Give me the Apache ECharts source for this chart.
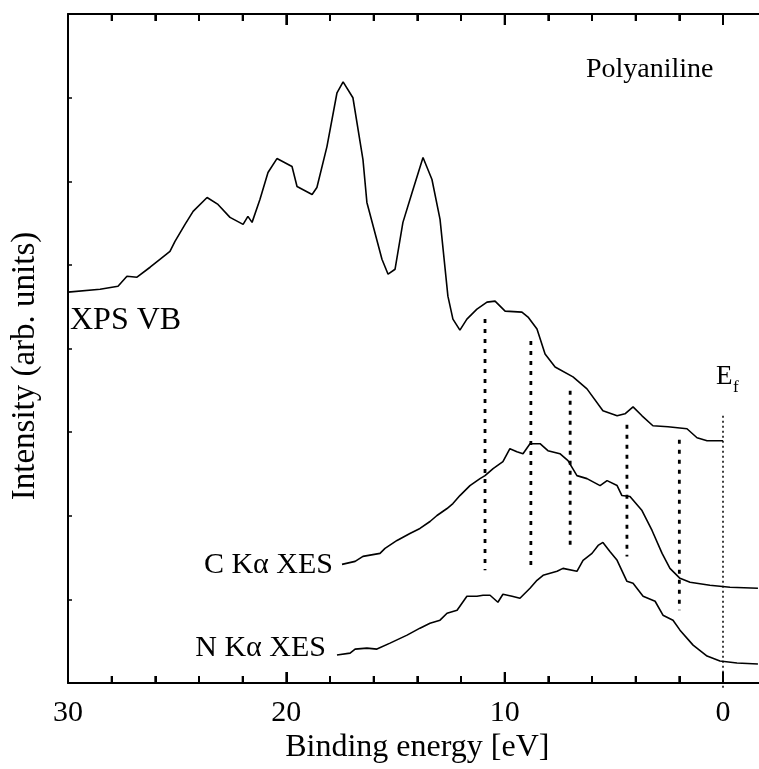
<!DOCTYPE html>
<html>
<head>
<meta charset="utf-8">
<script src="https://cdn.jsdelivr.net/npm/echarts@6/dist/echarts.min.js"></script>
<style>
html,body{margin:0;padding:0;background:#fff;overflow:hidden;}
#c{width:767px;height:769px;}
</style>
</head>
<body>
<div id="c"></div>
<script>
// Binding energy (eV) and intensity (arb. units)
const xpsE = [30.00,28.53,27.71,27.30,26.84,26.24,25.79,25.33,25.10,24.64,24.27,23.63,23.13,22.58,21.98,21.76,21.57,21.21,20.84,20.43,19.74,19.51,18.82,18.60,18.14,17.68,17.40,16.95,16.49,16.31,15.62,15.34,15.02,14.66,14.24,13.74,13.33,12.96,12.60,12.37,12.05,11.73,11.50,11.27,10.81,10.44,9.98,9.21,8.93,8.52,8.15,7.69,6.87,6.23,5.50,4.85,4.49,4.12,3.71,3.21,2.52,1.65,1.19,0.73,0.00];
const xpsI = [392,395,398,408,407,417,425,433,443,460,473,487,480,467,460,468,462,485,512,526,518,498,490,497,538,592,603,587,525,482,425,410,415,462,492,527,505,465,388,365,354,365,370,375,382,383,373,372,367,355,330,317,307,295,273,268,270,277,268,258,257,255,246,243,243];

const cE = [17.45,16.85,16.49,15.71,15.48,14.93,14.34,13.88,13.42,13.10,12.64,12.37,12.05,11.59,11.13,10.90,10.53,10.08,9.76,9.44,9.16,8.84,8.38,8.02,7.47,7.10,6.69,6.23,5.63,5.31,4.85,4.63,4.26,3.71,3.25,2.79,2.43,1.97,1.51,0.60,-0.32,-1.60];
const cI = [119,122,127,130,135,143,150,155,162,168,175,180,188,198,205,208,215,222,235,232,230,240,240,233,230,223,208,205,198,203,198,188,187,173,153,130,115,105,101,98,96,95];

const nE = [17.68,17.08,16.85,16.31,15.85,15.25,14.47,13.88,13.42,12.96,12.64,12.18,11.73,11.27,10.99,10.67,10.31,10.08,9.66,9.30,8.84,8.52,8.24,7.60,7.33,6.69,6.41,6.00,5.72,5.50,5.18,4.85,4.40,4.12,3.66,3.11,2.75,2.29,1.97,1.37,0.73,0.14,-0.64,-1.60];
const nI = [28,30,34,35,34,40,48,55,60,63,70,73,87,87,88,88,81,89,87,85,95,103,108,112,115,112,123,130,138,141,132,123,102,100,87,82,68,63,53,38,27,22,20,19];

// dotted guide lines
const dropE = [10.9, 8.8, 7.0, 4.4, 2.0];
const dropTop = [365, 343, 293, 259, 244];
const dropBottom = [113, 118, 133, 127, 73];
const fermiE = 0;
const fermiTop = 268;
const fermiBottom = -7;

// axis ranges and ticks (eV / arb. units)
const xMin = -2, xMax = 30;
const yMin = 0, yMax = 671, yStep = 83.875;
const xMajorTicks = [0, 10, 20, 30];
const xMinorTicks = [2, 4, 6, 8, 12, 14, 16, 18, 22, 24, 26, 28];

const FONT = 'Liberation Serif';
const zip = (a, b) => a.map((v, i) => [v, b[i]]);

const chart = echarts.init(document.getElementById('c'), null, {renderer: 'canvas'});

// tick marks: [energy, length px]
const tickData = xMajorTicks.map(v => [v, 11]).concat(xMinorTicks.map(v => [v, 7]));

const markTicks = [];
tickData.forEach(t => {
  markTicks.push([{coord: [t[0], yMin]}, {coord: [t[0], yMin + t[1]]}]);
  markTicks.push([{coord: [t[0], yMax]}, {coord: [t[0], yMax - t[1]]}]);
});

const series = [
  {type: 'line', data: zip(xpsE, xpsI), symbol: 'none', lineStyle: {color: '#000', width: 1.6}, itemStyle: {color: '#000'}},
  {type: 'line', data: zip(cE, cI), symbol: 'none', lineStyle: {color: '#000', width: 1.6}, itemStyle: {color: '#000'}},
  {type: 'line', data: zip(nE, nI), symbol: 'none', lineStyle: {color: '#000', width: 1.6}, itemStyle: {color: '#000'},
    markLine: {silent: true, symbol: ['none', 'none'], label: {show: false}, animation: false,
      lineStyle: {color: '#000', width: 2, type: 'solid'}, data: markTicks}}
];
dropE.forEach((e, i) => {
  series.push({type: 'line', data: [[e, dropTop[i]], [e, dropBottom[i]]], symbol: 'none',
    lineStyle: {color: '#000', width: 2.8, type: [4, 6]}, itemStyle: {color: '#000'}});
});
series.push({type: 'line', clip: false, data: [[fermiE, fermiTop], [fermiE, fermiBottom]], symbol: 'none',
  lineStyle: {color: '#000', width: 1.5, type: [2, 3]}, itemStyle: {color: '#000'}});

// tick marks via a custom series positioned with the axis scales
series.push({
  type: 'custom', clip: false, data: tickData, encode: {x: 0},
  renderItem: function (params, api) {
    const v = api.value(0), len = api.value(1);
    const pb = api.coord([v, yMin]);
    const pt = api.coord([v, yMax]);
    return {type: 'group', children: [
      {type: 'line', shape: {x1: pb[0], y1: pb[1], x2: pb[0], y2: pb[1] - len}, style: {stroke: '#000', lineWidth: 2}},
      {type: 'line', shape: {x1: pt[0], y1: pt[1], x2: pt[0], y2: pt[1] + len}, style: {stroke: '#000', lineWidth: 2}}
    ]};
  }
});

const option = {
  animation: false,
  backgroundColor: '#fff',
  grid: [
    {left: 68, top: 14, width: 698.67, height: 671, containLabel: false},
    {left: 68, top: 14, width: 655, height: 671, containLabel: false}
  ],
  xAxis: [
    {
      gridIndex: 0, type: 'value', min: xMin, max: xMax, interval: 2, inverse: true,
      position: 'bottom', splitLine: {show: false},
      axisLine: {show: true, lineStyle: {color: '#000', width: 2}},
      axisTick: {show: false},
      axisLabel: {show: false},
      name: 'Binding energy [eV]', nameLocation: 'middle', nameGap: 49,
      nameTextStyle: {fontFamily: FONT, fontSize: 32, color: '#000'}
    },
    {
      gridIndex: 0, type: 'value', min: xMin, max: xMax, interval: 2, inverse: true,
      position: 'top', splitLine: {show: false},
      axisLine: {show: true, onZero: false, lineStyle: {color: '#000', width: 2}},
      axisTick: {show: false},
      axisLabel: {show: false}
    },
    {
      gridIndex: 1, type: 'value', min: 0, max: xMax, interval: 10, inverse: true,
      position: 'bottom', splitLine: {show: false},
      axisLine: {show: false},
      axisTick: {show: false},
      axisLabel: {show: true, fontFamily: FONT, fontSize: 30, color: '#000', margin: 13}
    }
  ],
  yAxis: [
    {
      gridIndex: 0, type: 'value', min: yMin, max: yMax, interval: yStep,
      axisLine: {show: true, onZeroAxisIndex: 9, lineStyle: {color: '#000', width: 2}},
      axisTick: {show: true, inside: true, length: 4, lineStyle: {color: '#000', width: 1.5}},
      axisLabel: {show: false},
      splitLine: {show: false}
    },
    {
      gridIndex: 1, type: 'value', min: yMin, max: yMax,
      axisLine: {show: false, onZeroAxisIndex: 9}, axisTick: {show: false}, axisLabel: {show: false}, splitLine: {show: false}
    }
  ],
  series: series,
  graphic: [
    {type: 'text', x: 25, y: 366, rotation: Math.PI / 2, style: {text: 'Intensity (arb. units)', font: '33px "Liberation Serif"', fill: '#000', textAlign: 'center', textVerticalAlign: 'middle'}},
    {type: 'text', x: 586, y: 70, style: {text: 'Polyaniline', font: '28px "Liberation Serif"', fill: '#000', textVerticalAlign: 'middle'}},
    {type: 'text', x: 70, y: 321, style: {text: 'XPS VB', font: '32px "Liberation Serif"', fill: '#000', textVerticalAlign: 'middle'}},
    {type: 'text', x: 333, y: 565, style: {text: 'C K\u03b1 XES', font: '30px "Liberation Serif"', fill: '#000', textAlign: 'right', textVerticalAlign: 'middle'}},
    {type: 'text', x: 326, y: 648, style: {text: 'N K\u03b1 XES', font: '30px "Liberation Serif"', fill: '#000', textAlign: 'right', textVerticalAlign: 'middle'}},
    {type: 'text', x: 716, y: 377, style: {text: 'E', font: '27px "Liberation Serif"', fill: '#000', textVerticalAlign: 'middle'}},
    {type: 'text', x: 733, y: 388, style: {text: 'f', font: '17px "Liberation Serif"', fill: '#000', textVerticalAlign: 'middle'}}
  ]
};
chart.setOption(option);
</script>
</body>
</html>
